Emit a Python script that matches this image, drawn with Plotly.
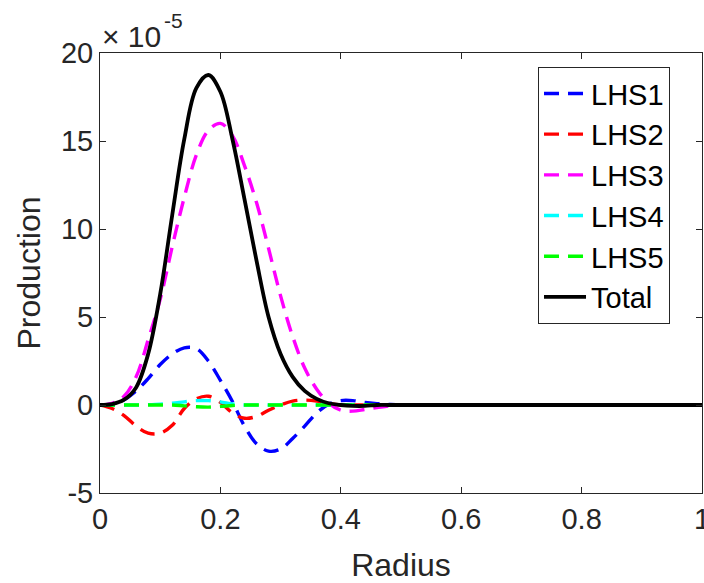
import plotly.graph_objects as go

# Radius samples
radius = [0.00, 0.02, 0.04, 0.06, 0.08, 0.10, 0.12, 0.14, 0.16, 0.18,
          0.20, 0.22, 0.24, 0.26, 0.28, 0.30, 0.32, 0.34, 0.36, 0.38,
          0.40, 0.42, 0.44, 0.46, 0.48, 0.50, 0.60, 0.70, 0.80, 0.90, 1.00]

# Production values in units of 1e-5
lhs1 = [0, 0.05, 0.3, 0.8, 1.5, 2.3, 2.9, 3.25, 3.2, 2.5,
        1.4, 0.2, -1.2, -2.2, -2.62, -2.5, -1.9, -1.2, -0.45, 0.05,
        0.25, 0.25, 0.15, 0.08, 0.03, 0.0, 0, 0, 0, 0, 0]
lhs2 = [0, -0.2, -0.6, -1.2, -1.6, -1.6, -1.15, -0.2, 0.35, 0.5,
        0.15, -0.45, -0.75, -0.65, -0.3, 0.0, 0.22, 0.28, 0.22, 0.08,
        0.0, 0, 0, 0, 0, 0, 0, 0, 0, 0, 0]
lhs3 = [0, 0.1, 0.5, 1.6, 3.7, 6.0, 9.0, 11.8, 14.2, 15.6,
        16.0, 15.3, 13.6, 11.5, 8.9, 6.2, 3.9, 2.1, 0.9, 0.1,
        -0.3, -0.35, -0.25, -0.15, -0.05, 0, 0, 0, 0, 0, 0]
lhs4 = [0, 0, 0, 0, 0.02, 0.05, 0.1, 0.18, 0.25, 0.25,
        0.18, 0.06, 0, 0, 0, 0, 0, 0, 0, 0,
        0, 0, 0, 0, 0, 0, 0, 0, 0, 0, 0]
lhs5 = [0, 0, 0, 0, 0, 0, 0, -0.05, -0.1, -0.12,
        -0.08, -0.03, 0, 0, 0, 0, 0, 0, 0, 0,
        0, 0, 0, 0, 0, 0, 0, 0, 0, 0, 0]
total = [0, 0.05, 0.3, 1.0, 2.9, 6.3, 10.8, 15.1, 18.0, 18.75,
         17.8, 15.1, 11.7, 8.2, 5.0, 2.9, 1.6, 0.8, 0.35, 0.1,
         0.0, -0.05, -0.05, 0, 0, 0, 0, 0, 0, 0, 0]

series_names = ["LHS1", "LHS2", "LHS3", "LHS4", "LHS5", "Total"]
series_vals = [lhs1, lhs2, lhs3, lhs4, lhs5, total]
series_colors = ["#0000FF", "#FF0000", "#FF00FF", "#00FFFF", "#00FF00", "#000000"]

x_ticks = [0, 0.2, 0.4, 0.6, 0.8, 1]
x_ticklabels = ["0", "0.2", "0.4", "0.6", "0.8", "1"]
y_ticks = [-5, 0, 5, 10, 15, 20]
y_ticklabels = ["-5", "0", "5", "10", "15", "20"]

FONT = "Liberation Sans, Arial, sans-serif"
AX = "#262626"

fig = go.Figure()
for name, vals, col in zip(series_names, series_vals, series_colors):
    is_total = name == "Total"
    fig.add_trace(go.Scatter(
        x=radius, y=vals, name=name, mode="lines",
        line=dict(color=col, width=3.8 if is_total else 3.4,
                  dash="solid" if is_total else "15px,9px",
                  shape="spline", smoothing=1.0),
    ))

axis_common = dict(
    showgrid=False, zeroline=False, showline=True, linecolor=AX, linewidth=1,
    mirror="ticks", ticks="inside", ticklen=6, tickwidth=1, tickcolor=AX,
    tickfont=dict(family=FONT, size=29, color=AX),
    ticklabeloverflow="allow", automargin=False,
)

fig.update_xaxes(range=[0, 1], tickvals=x_ticks, ticktext=x_ticklabels,
                 title=dict(text="Radius", font=dict(family=FONT, size=32, color=AX), standoff=19),
                 **axis_common)
fig.update_yaxes(range=[-5, 20], tickvals=y_ticks, ticktext=y_ticklabels,
                 title=dict(text="Production", font=dict(family=FONT, size=32, color=AX), standoff=10),
                 **axis_common)

fig.add_annotation(xref="paper", yref="paper", x=0, y=1, xanchor="left", yanchor="bottom",
                   text="× 10", showarrow=False, xshift=0, yshift=-2,
                   font=dict(family=FONT, size=30, color=AX))
fig.add_annotation(xref="paper", yref="paper", x=0, y=1, xanchor="left", yanchor="bottom",
                   text="-5", showarrow=False, xshift=62, yshift=19,
                   font=dict(family=FONT, size=21, color=AX))

fig.update_layout(
    width=704, height=583,
    margin=dict(l=100, r=2, t=53, b=90),
    paper_bgcolor="white", plot_bgcolor="white",
    showlegend=True,
    legend=dict(x=0.7276, y=0.968, xanchor="left", yanchor="top",
                bgcolor="white", bordercolor=AX, borderwidth=1,
                font=dict(family=FONT, size=29, color="black"),
                itemwidth=42, tracegroupgap=0),
)

fig.write_html("out.html")
